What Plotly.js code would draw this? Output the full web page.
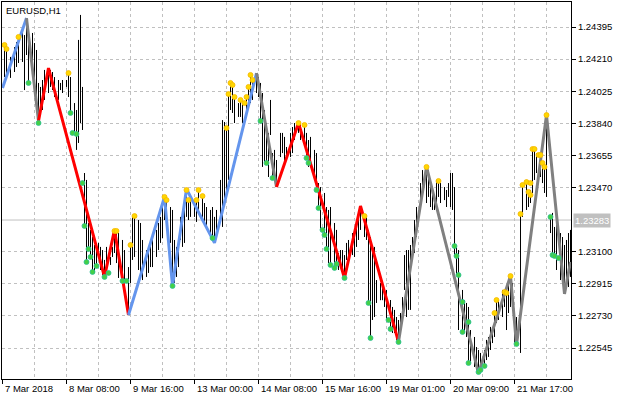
<!DOCTYPE html>
<html><head><meta charset="utf-8">
<script src="https://cdn.plot.ly/plotly-3.0.1.min.js"></script>
<style>html,body{margin:0;padding:0;background:#fff}#chart{width:624px;height:400px}</style>
</head><body><div id="chart"></div>
<script>
const symbolTitle = 'EURUSD,H1';
const xTickIdx = [0, 32, 64, 96, 128, 160, 192, 224, 256];
const xTickLabels = ['7 Mar 2018', '8 Mar 08:00', '9 Mar 16:00', '13 Mar 00:00', '14 Mar 08:00', '15 Mar 16:00', '19 Mar 01:00', '20 Mar 09:00', '21 Mar 17:00'];
const yTickPrices = [1.22545, 1.22730, 1.22915, 1.23100, 1.23470, 1.23655, 1.23840, 1.24025, 1.24210, 1.24395];
const lastPrice = 1.23283;

const barIdx = [1,2,4,6,7,8,10,11,12,13,
15,16,17,18,19,20,21,23,24,25,
26,28,29,30,32,33,34,36,37,38,
39,40,41,42,43,44,45,46,47,48,
49,50,51,52,54,55,56,57,58,60,
61,63,64,65,66,68,69,70,72,73,
74,75,77,78,79,80,81,82,84,85,
86,87,88,89,90,91,92,93,94,96,
97,98,100,101,102,104,105,106,107,109,
110,111,112,113,114,115,116,118,119,120,
122,123,124,125,127,128,129,130,131,132,
133,134,135,136,137,139,140,141,142,144,
145,146,148,149,151,152,153,154,156,157,
158,159,161,162,163,164,166,167,168,169,
170,171,172,173,175,176,177,178,179,181,
182,183,184,185,186,187,189,190,191,192,
194,195,196,197,198,199,200,201,202,203,
204,205,206,207,209,210,212,213,214,215,
216,217,218,219,221,222,223,224,225,226,
227,228,230,231,232,233,234,236,237,238,
239,241,242,243,244,245,246,247,248,250,
251,252,253,254,255,256,257,259,260,262,
263,264,265,266,267,269,270,271,272,274,
275,276,277,279,280,281,282,283,284];

const barHigh = [1.24292,1.24263,1.24223,1.24280,1.24309,1.24338,1.24361,1.24349,1.24447,1.24395,
1.24361,1.24303,1.24263,1.24073,1.24050,1.24090,1.24148,1.24159,1.24148,1.24136,
1.24107,1.24090,1.24073,1.24090,1.24090,1.24130,1.24107,1.23957,1.23917,1.24321,
1.24465,1.24050,1.23554,1.23514,1.23266,1.23226,1.23185,1.23139,1.23128,1.23151,
1.23128,1.23110,1.23053,1.23128,1.23070,1.23128,1.23220,1.23226,1.23208,1.23168,
1.23110,1.23012,1.23139,1.23301,1.23306,1.23283,1.23266,1.23168,1.23110,1.23128,
1.23151,1.23197,1.23226,1.23266,1.23301,1.23358,1.23416,1.23398,1.23358,1.23341,
1.23168,1.23128,1.23168,1.23301,1.23324,1.23381,1.23462,1.23398,1.23398,1.23381,
1.23398,1.23456,1.23421,1.23381,1.23358,1.23341,1.23358,1.23301,1.23341,1.23514,
1.23859,1.23848,1.23813,1.24009,1.24073,1.24061,1.23992,1.23957,1.23975,1.23957,
1.23986,1.24061,1.24119,1.24102,1.24130,1.24107,1.24073,1.24015,1.23917,1.23842,
1.23785,1.23975,1.23669,1.23687,1.23629,1.23785,1.23785,1.23762,1.23704,1.23785,
1.23819,1.23842,1.23842,1.23842,1.23831,1.23785,1.23744,1.23762,1.23687,1.23669,
1.23496,1.23473,1.23439,1.23358,1.23341,1.23358,1.23266,1.23226,1.23093,1.23110,
1.23110,1.23081,1.23151,1.23168,1.23208,1.23226,1.23283,1.23324,1.23364,1.23312,
1.23301,1.23226,1.23185,1.23128,1.23128,1.22937,1.22920,1.22920,1.22880,1.22880,
1.22822,1.22782,1.22765,1.22724,1.22707,1.22747,1.22839,1.23081,1.23110,1.23110,
1.23139,1.23185,1.23283,1.23358,1.23496,1.23571,1.23589,1.23571,1.23514,1.23456,
1.23416,1.23514,1.23508,1.23496,1.23473,1.23456,1.23496,1.23554,1.23554,1.23473,
1.23128,1.23110,1.22880,1.22822,1.22805,1.22782,1.22649,1.22609,1.22551,1.22534,
1.22517,1.22534,1.22592,1.22609,1.22667,1.22667,1.22747,1.22822,1.22822,1.22880,
1.22868,1.22862,1.22909,1.22960,1.22920,1.22747,1.22724,1.23324,1.23496,1.23514,
1.23456,1.23456,1.23687,1.23687,1.23669,1.23646,1.23612,1.23589,1.23888,1.23301,
1.23324,1.23243,1.23266,1.23208,1.23185,1.23139,1.23168,1.23208,1.23226];

const barLow = [1.24107,1.24107,1.24102,1.24136,1.24165,1.24188,1.24194,1.24032,1.24234,1.24073,
1.24130,1.24090,1.23975,1.23854,1.23900,1.23917,1.23975,1.24015,1.24050,1.24032,
1.23992,1.23975,1.24032,1.24015,1.24050,1.23992,1.23900,1.23785,1.23687,1.23727,
1.23842,1.23802,1.23243,1.23041,1.23116,1.23070,1.22984,1.22978,1.23018,1.23081,
1.22995,1.22966,1.22955,1.22978,1.23024,1.23070,1.23093,1.23035,1.22949,1.22932,
1.22920,1.22736,1.22920,1.23053,1.23070,1.22995,1.22984,1.22937,1.22955,1.22978,
1.23012,1.23012,1.23070,1.23110,1.23151,1.23179,1.23283,1.23243,1.23151,1.22903,
1.22920,1.22955,1.23012,1.23168,1.23128,1.23151,1.23301,1.23283,1.23301,1.23301,
1.23272,1.23324,1.23283,1.23266,1.23226,1.23208,1.23179,1.23151,1.23226,1.23283,
1.23243,1.23398,1.23456,1.23514,1.23917,1.23900,1.23842,1.23877,1.23877,1.23842,
1.23900,1.23934,1.23957,1.23975,1.24015,1.23992,1.23854,1.23589,1.23617,1.23612,
1.23531,1.23773,1.23514,1.23554,1.23473,1.23646,1.23669,1.23612,1.23646,1.23646,
1.23669,1.23744,1.23785,1.23744,1.23704,1.23640,1.23589,1.23629,1.23514,1.23456,
1.23352,1.23226,1.23197,1.23116,1.23035,1.23024,1.23007,1.23030,1.22995,1.23035,
1.22995,1.22949,1.23053,1.23070,1.23081,1.23070,1.23128,1.23168,1.23226,1.23185,
1.23168,1.22805,1.22603,1.22707,1.22724,1.22805,1.22821,1.22821,1.22782,1.22707,
1.22649,1.22632,1.22632,1.22592,1.22580,1.22649,1.22690,1.22880,1.22724,1.22765,
1.22765,1.23053,1.23093,1.23185,1.23358,1.23416,1.23381,1.23416,1.23358,1.23341,
1.23341,1.23381,1.23416,1.23381,1.23398,1.23358,1.23416,1.23358,1.23341,1.23070,
1.22966,1.22649,1.22638,1.22632,1.22609,1.22459,1.22459,1.22436,1.22419,1.22401,
1.22419,1.22436,1.22476,1.22494,1.22534,1.22574,1.22609,1.22690,1.22707,1.22724,
1.22782,1.22649,1.22747,1.22782,1.22782,1.22574,1.22563,1.22517,1.23301,1.23341,
1.23358,1.23381,1.23439,1.23514,1.23554,1.23531,1.23496,1.23439,1.23416,1.23208,
1.23070,1.23070,1.22995,1.22937,1.22920,1.22857,1.22897,1.22897,1.22955];

const pivotIdx = [0,12,18,23,51,56,63,81,85,92,106,127,137,148,171,179,198,212,238,254,257,272,281,284];
const pivotPrice = [1.24044,1.24447,1.23854,1.24159,1.22955,1.23226,1.22736,1.23416,1.22903,1.23462,1.23151,1.24130,1.23473,1.23842,1.22949,1.23364,1.22581,1.23589,1.22401,1.22961,1.22563,1.23888,1.22857,1.23041];
const segTrend = ['up','flat','down','down','down','down','up','up','up','up','up','flat','down','down','down','down','flat','flat','flat','flat','flat','flat','flat'];

const upIdx = [1,2,8,33,56,57,64,66,81,82,92,93,97,98,100,112,113,114,115,116,119,121,122,123,124,125,148,151,181,212,218,246,247,251,252,254,259,260,262,263,264,264,265,266,268,269,270,271,272];
const upPrice = [1.24292,1.24269,1.24338,1.24130,1.23220,1.23220,1.23139,1.23306,1.23416,1.23398,1.23456,1.23398,1.23398,1.23456,1.23421,1.23813,1.24009,1.24073,1.24061,1.23992,1.23975,1.23957,1.23992,1.24050,1.24119,1.24090,1.23842,1.23831,1.23306,1.23589,1.23508,1.22747,1.22822,1.22868,1.22862,1.22960,1.23318,1.23485,1.23502,1.23445,1.23496,1.23427,1.23692,1.23692,1.23658,1.23658,1.23612,1.23589,1.23888];
const dnIdx = [13,18,34,35,37,40,41,42,43,44,45,47,51,53,60,62,85,105,129,132,135,152,153,157,158,160,161,162,164,166,167,171,183,184,193,194,198,226,227,228,230,230,233,233,238,239,241,257,274,275,276,278];
const dnPrice = [1.24073,1.23842,1.23900,1.23785,1.23779,1.23496,1.23249,1.23041,1.23116,1.23070,1.22984,1.23018,1.22955,1.22978,1.22932,1.22932,1.22903,1.23179,1.23854,1.23612,1.23525,1.23640,1.23612,1.23456,1.23352,1.23226,1.23197,1.23116,1.23024,1.23007,1.23030,1.22949,1.22805,1.22603,1.22707,1.22655,1.22580,1.23133,1.23076,1.22966,1.22811,1.22638,1.22695,1.22459,1.22407,1.22419,1.22442,1.22569,1.23301,1.23081,1.23076,1.23064];

const trendColor = {up: '#6495ED', down: '#FF0000', flat: '#808080'};
const FONT = 'Liberation Sans, Arial, sans-serif';

// bars as vertical segments
const bx = [], by = [];
barIdx.forEach((i, k) => { bx.push(i, i, null); by.push(barHigh[k], barLow[k], null); });
const traces = [{
  type: 'scatter', mode: 'lines', x: bx, y: by,
  line: {color: '#000000', width: 1}, hoverinfo: 'skip'
}];

// zigzag: runs of same trend
let runStart = 0;
for (let s = 1; s <= segTrend.length; s++) {
  if (s === segTrend.length || segTrend[s] !== segTrend[runStart]) {
    const xs = pivotIdx.slice(runStart, s + 1);
    const ys = pivotPrice.slice(runStart, s + 1);
    traces.push({type: 'scatter', mode: 'lines', x: xs, y: ys,
      line: {color: trendColor[segTrend[runStart]], width: 3}, hoverinfo: 'skip'});
    runStart = s;
  }
}

traces.push({type: 'scatter', mode: 'markers', x: upIdx, y: upPrice,
  marker: {size: 5, color: '#FFD700', line: {color: '#F5B800', width: 0.8}}, hoverinfo: 'skip'});
traces.push({type: 'scatter', mode: 'markers', x: dnIdx, y: dnPrice,
  marker: {size: 5, color: '#44D044', line: {color: '#2FC09A', width: 0.8}}, hoverinfo: 'skip'});

const annotations = xTickIdx.map((v, k) => ({
  xref: 'x', yref: 'paper', x: v, y: 0, xanchor: 'left', yanchor: 'top',
  yshift: -2, xshift: 0, text: xTickLabels[k], showarrow: false,
  font: {family: FONT, size: 9.5, color: '#000'}
}));
annotations.push({xref: 'paper', yref: 'paper', x: 0, y: 1, xanchor: 'left', yanchor: 'top',
  xshift: 2, yshift: -1, text: symbolTitle, showarrow: false,
  font: {family: FONT, size: 9.5, color: '#000'}});
annotations.push({xref: 'paper', yref: 'y', x: 1, y: lastPrice, xanchor: 'left', yanchor: 'middle',
  xshift: 2, text: lastPrice.toFixed(5), showarrow: false, bgcolor: '#C0C0C0', borderpad: 1,
  font: {family: FONT, size: 9.5, color: '#FFFFFF'}});

const layout = {
  width: 624, height: 400,
  margin: {l: 2, r: 53, t: 2, b: 21, pad: 0},
  paper_bgcolor: '#ffffff', plot_bgcolor: '#ffffff',
  showlegend: false,
  font: {family: FONT, size: 9.5, color: '#000'},
  xaxis: {
    range: [-0.25, 284.25], tickmode: 'linear', tick0: 0, dtick: 32,
    showticklabels: false, ticks: 'outside', ticklen: 4, tickcolor: '#000',
    showgrid: true, gridcolor: '#C0C0C0', griddash: '3px,3px', gridwidth: 1,
    minor: {dtick: 16, showgrid: true, gridcolor: '#C0C0C0', griddash: '3px,3px', gridwidth: 1, ticks: ''},
    showline: true, linecolor: '#000', linewidth: 1, mirror: true, zeroline: false
  },
  yaxis: {
    side: 'right', range: [1.223668, 1.245395],
    tickmode: 'array', tickvals: yTickPrices, ticktext: yTickPrices.map(v => v.toFixed(5)),
    ticks: 'outside', ticklen: 4, tickcolor: '#000',
    showgrid: true, gridcolor: '#C0C0C0', griddash: '3px,3px', gridwidth: 1,
    showline: true, linecolor: '#000', linewidth: 1, mirror: true, zeroline: false,
    tickfont: {family: FONT, size: 9.5, color: '#000'}
  },
  shapes: [{type: 'line', xref: 'paper', x0: 0, x1: 1, yref: 'y', y0: lastPrice, y1: lastPrice,
    line: {color: '#C0C0C0', width: 1}, layer: 'below'}],
  annotations: annotations
};

Plotly.newPlot('chart', traces, layout, {staticPlot: true, displayModeBar: false});
</script></body></html>
